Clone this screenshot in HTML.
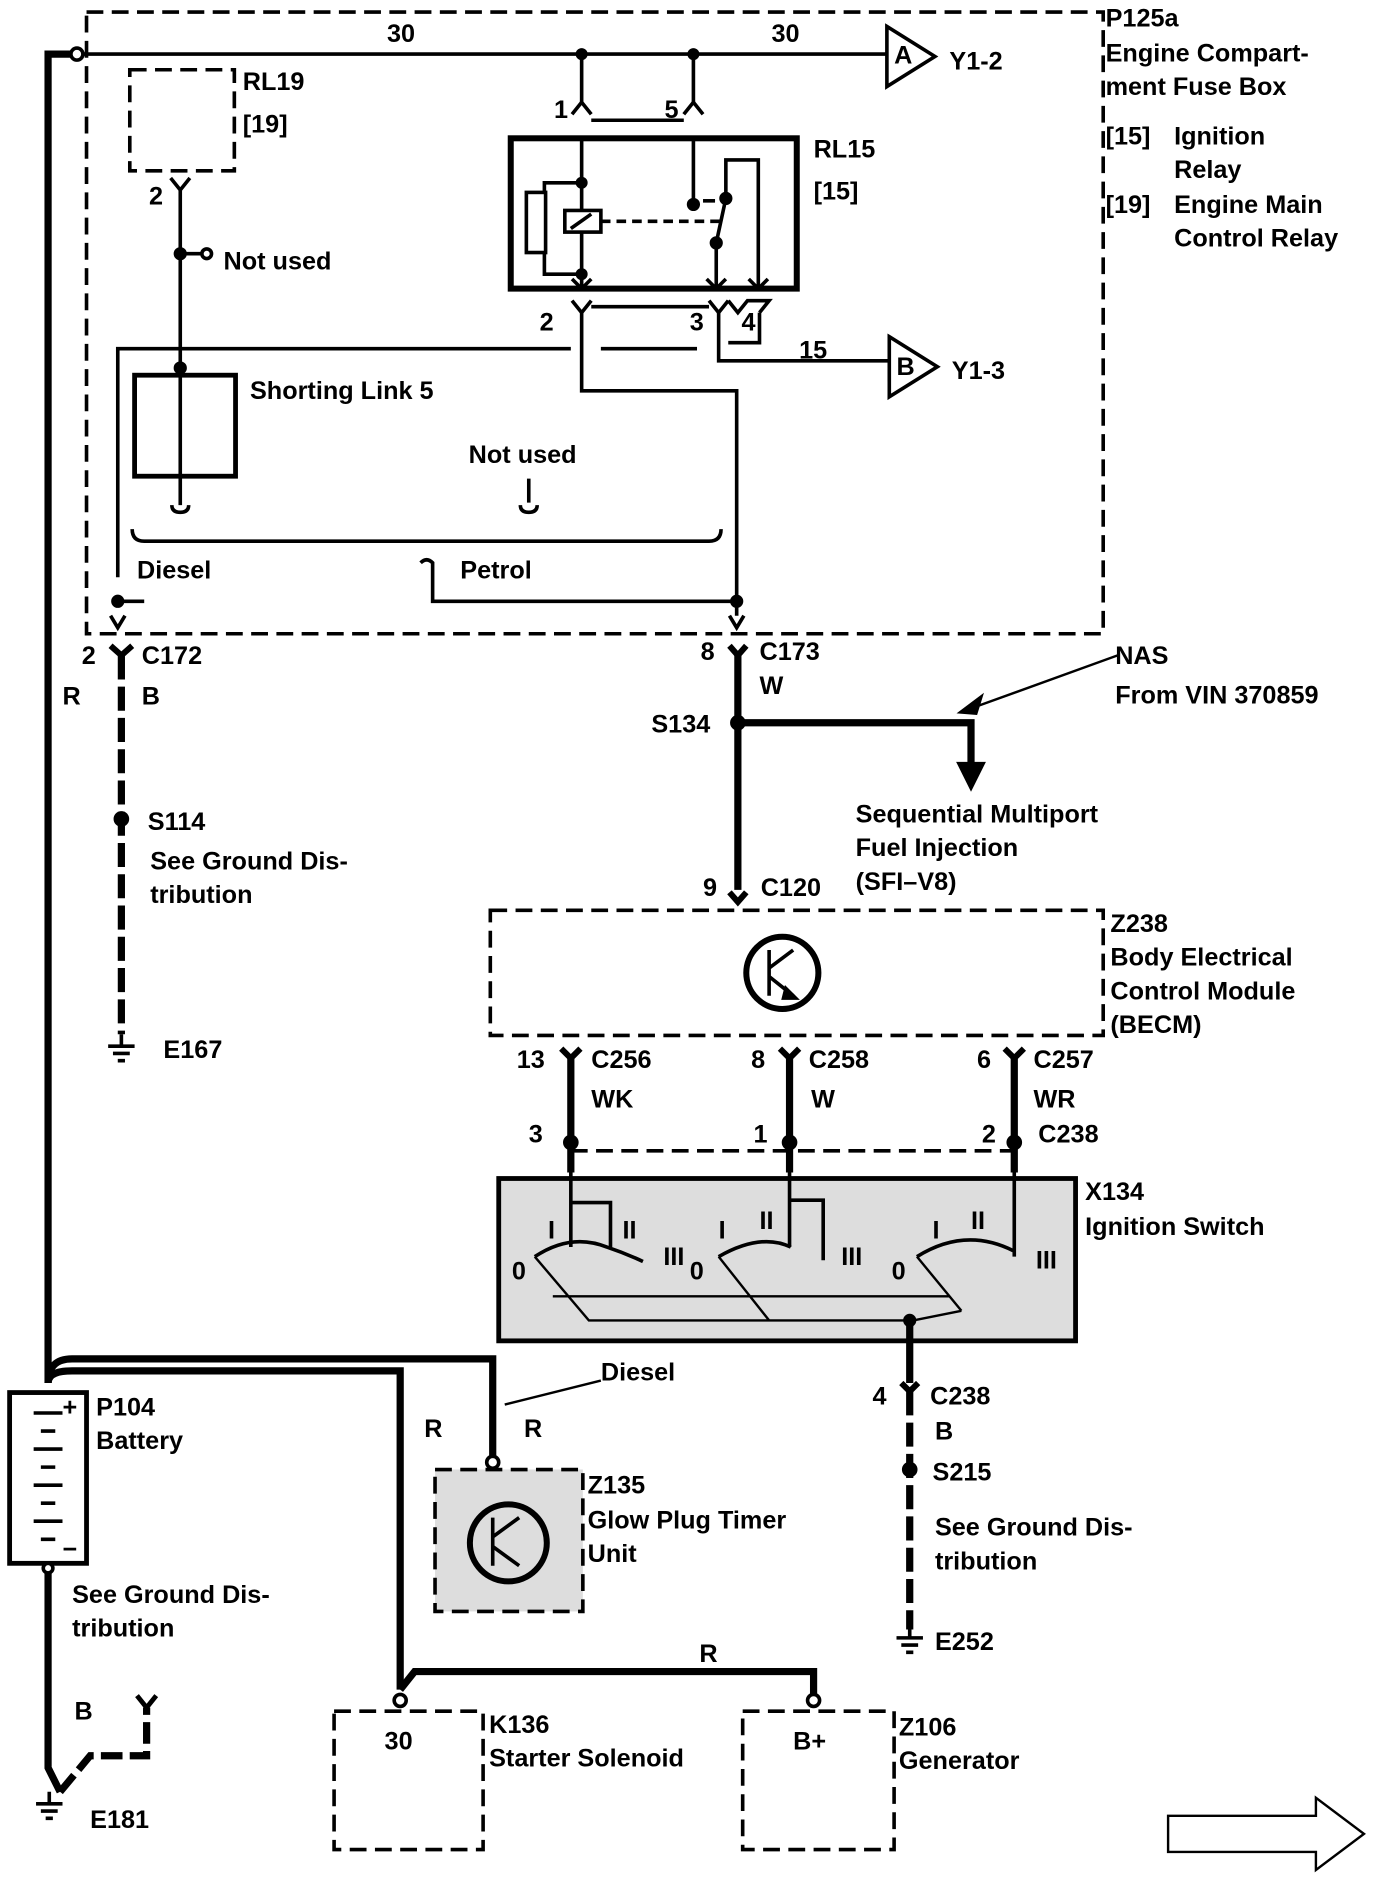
<!DOCTYPE html>
<html><head><style>
html,body{margin:0;padding:0;background:#fff}
svg{display:block}
text{font-family:"Liberation Sans",sans-serif;font-weight:bold;font-size:21px;fill:#000}
</style></head><body>
<svg width="1376" height="1882" viewBox="0 0 1145 1565" preserveAspectRatio="none" xmlns="http://www.w3.org/2000/svg">
<g fill="none" stroke="#000" stroke-width="3">
<rect x="72" y="10" width="846" height="517" stroke-dasharray="14,7"/>
<path d="M40 1150 V45 H62" stroke-width="6"/>
<circle cx="64" cy="45" r="5" fill="#fff"/>
<path d="M69 45 H738"/>
<path d="M738 22 L778 47 L738 72 Z"/>
<path d="M484 45 V85 M577 45 V85"/>
<circle cx="484" cy="45" r="3.5" fill="#000"/><circle cx="577" cy="45" r="3.5" fill="#000"/>
<path d="M476 95 L484 85 L492 95 M569 95 L577 85 L585 95 M492 100 H569" />
<rect x="108" y="58" width="87" height="84" stroke-dasharray="14,7"/>
<path d="M142 148 L150 158 L158 148 M150 158 V305"/>
<circle cx="150" cy="211" r="4" fill="#000"/>
<path d="M150 211 H168"/><circle cx="172" cy="211" r="4" fill="#fff"/>
<rect x="425" y="115" width="238" height="125" stroke-width="5"/>
<path d="M484 115 V240 M577 115 V170"/>
<path d="M484 152 H453 V228 H484"/>
<circle cx="484" cy="152" r="3.5" fill="#000"/><circle cx="484" cy="228" r="3.5" fill="#000"/>
<rect x="438" y="160" width="16" height="50" fill="#fff"/>
<rect x="470" y="175" width="30" height="18" fill="#fff"/>
<path d="M475 190 L492 178"/>
<path d="M500 184 H600" stroke-dasharray="8,5"/>
<circle cx="577" cy="170" r="4" fill="#000"/>
<path d="M585 167 L595 167" />
<circle cx="604" cy="165" r="4" fill="#000"/><circle cx="596" cy="202" r="4" fill="#000"/>
<path d="M604 165 L596 202 M604 165 V133 H631 V240 M596 202 V240"/>
<path d="M476 232 L484 240 L492 232 M588 232 L596 240 L604 232 M623 232 L631 240 L639 232"/>
<path d="M476 250 L484 260 L492 250 M492 255 H590 M590 250 L598 260 L606 250 M606 250 L614 260 L622 250 H640 L632 260 M632 260 V285 H606"/>
<path d="M484 260 V325 H613 V512"/>
<path d="M598 260 V300 H740"/>
<path d="M740 280 L780 305 L740 330 Z"/>
<path d="M98 480 V290 H475 M500 290 H580" />
<rect x="112" y="312" width="84" height="84" stroke-width="4"/>
<circle cx="150" cy="306" r="4" fill="#000"/>
<path d="M150 312 V405"/>
<path d="M143 420 q0 6 7 6 q7 0 7-6 M150 405 V420"/>
<path d="M440 398 V418 M433 420 q0 6 7 6 q7 0 7-6"/>
<path d="M110 440 q0 10 10 10 H590 q10 0 10-10"/>
<path d="M350 468 q5-5 10 0 V500 H613"/>
<circle cx="98" cy="500" r="4" fill="#000"/><path d="M98 500 H120"/>
<circle cx="613" cy="500" r="4" fill="#000"/>
<path d="M92 512 L98 522 L104 512 M607 512 L613 522 L619 512"/>
<path d="M92 537 L101 545 L110 537" stroke-width="5"/>
<path d="M101 545 V860" stroke-width="6" stroke-dasharray="20,6"/>
<circle cx="101" cy="681" r="5" fill="#000"/>
<path d="M90 870 H112 M94 876 H108 M98 882 H104 M101 860 V870"/>
<path d="M607 537 L614 545 L621 537" stroke-width="5"/>
<path d="M614 545 V740" stroke-width="6"/>
<circle cx="614" cy="601" r="5" fill="#000"/>
<path d="M614 601 H808 V640" stroke-width="6"/>
<path d="M798 635 L808 655 L818 635 Z" fill="#000"/>
<path d="M930 545 L800 592" stroke-width="2"/><path d="M800 592 L816 580 L812 593 Z" fill="#000"/>
<path d="M607 742 L614 750 L621 742" stroke-width="5"/>
<rect x="408" y="757" width="510" height="104" stroke-dasharray="14,7"/>
<circle cx="651" cy="809" r="30" stroke-width="5"/>
<path d="M640 790 V828 M640 805 L660 790 M640 812 L660 828"/>
<path d="M654 822 L662 830 L652 830 Z" fill="#000"/>
<path d="M467 872 L475 880 L483 872 M649 872 L657 880 L665 872 M836 872 L844 880 L852 872" stroke-width="5"/>
<path d="M475 880 V975 M657 880 V975 M844 880 V975" stroke-width="6"/>
<circle cx="475" cy="950" r="5" fill="#000"/><circle cx="657" cy="950" r="5" fill="#000"/><circle cx="844" cy="950" r="5" fill="#000"/>
<path d="M475 957 H844" stroke-dasharray="14,7"/>
<rect x="415" y="980" width="480" height="135" fill="#ddd" stroke-width="4"/>
<path d="M475 975 V1000 H508 V1037 M475 1000 V1037 M657 975 V998 H685 V1048 M657 998 V1037 M844 975 V1045"/>
<path d="M445 1045 q30-20 60-8 q15 5 30 12 M598 1045 q35-20 60-8 M763 1045 q40-25 80-5"/>
<path d="M445 1045 L490 1098 H760 L800 1090 M598 1045 L640 1098 M763 1045 L800 1090 M460 1078 H790" stroke-width="2"/>
<path d="M757 1098 V1150" stroke-width="6"/>
<circle cx="757" cy="1098" r="4" fill="#000"/>
<path d="M750 1150 L757 1157 L764 1150" stroke-width="5"/>
<path d="M757 1157 V1355" stroke-width="6" stroke-dasharray="20,6"/>
<circle cx="757" cy="1222" r="5" fill="#000"/>
<path d="M746 1362 H768 M750 1368 H764 M754 1374 H760 M757 1355 V1362"/>
<rect x="8" y="1158" width="64" height="142" fill="#fff" stroke-width="4"/>
<path d="M28 1175 H52 M34 1190 H46 M28 1205 H52 M34 1220 H46 M28 1235 H52 M34 1250 H46 M28 1265 H52 M34 1280 H46"/>
<path d="M40 1150 Q40 1130 60 1130 H410 V1212" stroke-width="6"/>
<path d="M40 1150 Q40 1140 60 1140 H333 V1405" stroke-width="6"/>
<circle cx="410" cy="1216" r="5" fill="#fff"/>
<path d="M500 1148 L420 1168" stroke-width="2"/>
<path d="M333 1405 L345 1390 H677 V1412" stroke-width="6"/>
<circle cx="333" cy="1414" r="5" fill="#fff"/><circle cx="677" cy="1414" r="5" fill="#fff"/>
<path d="M40 1300 V1470 L50 1490" stroke-width="6"/>
<circle cx="40" cy="1304" r="4" fill="#fff"/>
<path d="M50 1490 L75 1460 H122 V1420" stroke-width="6" stroke-dasharray="18,6"/>
<path d="M114 1410 L122 1420 L130 1410" stroke-width="4"/>
<path d="M30 1500 H52 M34 1506 H48 M38 1512 H44 M41 1490 V1500"/>
<rect x="362" y="1222" width="123" height="118" fill="#ddd" stroke-dasharray="14,7"/>
<circle cx="423" cy="1283" r="32" stroke-width="5"/>
<path d="M410 1262 V1302 M410 1278 L432 1262 M410 1286 L432 1302"/>
<rect x="278" y="1423" width="124" height="115" stroke-dasharray="14,7"/>
<rect x="618" y="1423" width="126" height="115" stroke-dasharray="14,7"/>
<path d="M972 1510 H1095 V1495 L1135 1525 L1095 1555 V1540 H972 Z" stroke-width="2"/>
</g>
<text x="322" y="35">30</text><text x="642" y="35">30</text>
<text x="744" y="53" font-size="16">A</text><text x="746" y="312" font-size="16">B</text>
<text x="790" y="58">Y1-2</text><text x="792" y="315">Y1-3</text>
<text x="920" y="22">P125a</text><text x="920" y="51">Engine Compart-</text><text x="920" y="79">ment Fuse Box</text>
<text x="920" y="120">[15]</text><text x="977" y="120">Ignition</text><text x="977" y="148">Relay</text>
<text x="920" y="177">[19]</text><text x="977" y="177">Engine Main</text><text x="977" y="205">Control Relay</text>
<text x="202" y="75">RL19</text><text x="202" y="110">[19]</text>
<text x="677" y="131">RL15</text><text x="677" y="166">[15]</text>
<text x="461" y="98">1</text><text x="553" y="98">5</text>
<text x="124" y="170">2</text><text x="186" y="224">Not used</text>
<text x="449" y="275">2</text><text x="574" y="275">3</text><text x="617" y="275">4</text><text x="665" y="298">15</text>
<text x="208" y="332">Shorting Link 5</text><text x="390" y="385">Not used</text>
<text x="114" y="481">Diesel</text><text x="383" y="481">Petrol</text>
<text x="68" y="552">2</text><text x="118" y="552">C172</text><text x="52" y="586">R</text><text x="118" y="586">B</text>
<text x="583" y="549">8</text><text x="632" y="549">C173</text><text x="632" y="577">W</text>
<text x="542" y="609">S134</text><text x="928" y="552">NAS</text><text x="928" y="585">From VIN 370859</text>
<text x="712" y="684">Sequential Multiport</text><text x="712" y="712">Fuel Injection</text><text x="712" y="740">(SFI–V8)</text>
<text x="123" y="690">S114</text><text x="125" y="723">See Ground Dis-</text><text x="125" y="751">tribution</text>
<text x="585" y="745">9</text><text x="633" y="745">C120</text>
<text x="924" y="775">Z238</text><text x="924" y="803">Body Electrical</text><text x="924" y="831">Control Module</text><text x="924" y="859">(BECM)</text>
<text x="136" y="880">E167</text>
<text x="430" y="888">13</text><text x="492" y="888">C256</text><text x="492" y="921">WK</text>
<text x="625" y="888">8</text><text x="673" y="888">C258</text><text x="675" y="921">W</text>
<text x="813" y="888">6</text><text x="860" y="888">C257</text><text x="860" y="921">WR</text>
<text x="440" y="950">3</text><text x="627" y="950">1</text><text x="817" y="950">2</text><text x="864" y="950">C238</text>
<text x="903" y="998">X134</text><text x="903" y="1027">Ignition Switch</text>
<g font-size="16"><text x="456" y="1030">I</text><text x="518" y="1030">II</text><text x="552" y="1052">III</text><text x="426" y="1064">0</text>
<text x="598" y="1030">I</text><text x="632" y="1022">II</text><text x="700" y="1052">III</text><text x="574" y="1064">0</text>
<text x="776" y="1030">I</text><text x="808" y="1022">II</text><text x="862" y="1055">III</text><text x="742" y="1064">0</text></g>
<text x="500" y="1148">Diesel</text>
<text x="726" y="1168">4</text><text x="774" y="1168">C238</text><text x="778" y="1197">B</text>
<text x="776" y="1231">S215</text><text x="778" y="1277">See Ground Dis-</text><text x="778" y="1305">tribution</text>
<text x="778" y="1372">E252</text>
<text x="80" y="1177">P104</text><text x="80" y="1205">Battery</text>
<text x="60" y="1333">See Ground Dis-</text><text x="60" y="1361">tribution</text>
<text x="353" y="1195">R</text><text x="436" y="1195">R</text>
<text x="489" y="1242">Z135</text><text x="489" y="1271">Glow Plug Timer</text><text x="489" y="1299">Unit</text>
<text x="582" y="1382">R</text>
<text x="62" y="1430">B</text><text x="75" y="1520">E181</text>
<text x="320" y="1455">30</text><text x="407" y="1441">K136</text><text x="407" y="1469">Starter Solenoid</text>
<text x="660" y="1455">B+</text><text x="748" y="1443">Z106</text><text x="748" y="1471">Generator</text>
<text x="52" y="1177" font-size="14">+</text><text x="52" y="1295" font-size="14">−</text>
</svg>
</body></html>
